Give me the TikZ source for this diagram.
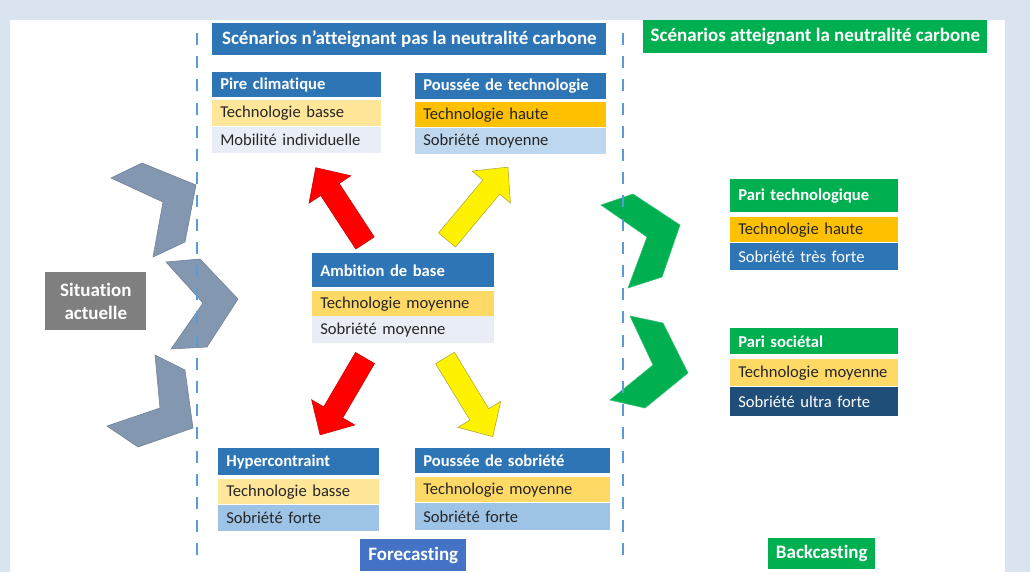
\documentclass[tikz,border=0pt]{standalone}
\usepackage{fontspec}
\setmainfont{Carlito}[Ligatures=NoCommon]

\definecolor{frameblue}{HTML}{DAE3F0}
\definecolor{hdrblue}{HTML}{2E75B6}
\definecolor{hdrgreen}{HTML}{00B050}
\definecolor{techlow}{HTML}{FFE699}
\definecolor{techmid}{HTML}{FFD966}
\definecolor{techhigh}{HTML}{FFC000}
\definecolor{sobpale}{HTML}{E9EEF6}
\definecolor{sobmid}{HTML}{BDD7EE}
\definecolor{sobfort}{HTML}{9DC3E6}
\definecolor{sobdark}{HTML}{1F4E79}
\definecolor{sitgray}{HTML}{7F7F7F}
\definecolor{chevgray}{HTML}{8497B0}
\definecolor{forecast}{HTML}{4472C4}
\definecolor{sepblue}{HTML}{5B9BD5}

% fat arrow: style, tail point, angle, length
\newcommand{\blockarrow}[4]{%
  \begin{scope}[shift={#2}, rotate=#3]
    \filldraw[#1] (0,-11) -- (#4-26,-11) -- (#4-26,-25) -- (#4,0)
      -- (#4-26,25) -- (#4-26,11) -- (0,11) -- cycle;
  \end{scope}}

\begin{document}
\begin{tikzpicture}[x=0.025cm,y=-0.025cm,
  every node/.style={anchor=north west,inner xsep=0.2cm,inner ysep=0pt,
    font=\fontsize{11.8}{13}\selectfont,text=black!85,align=left},
  hdr/.style={font=\fontsize{11.8}{13}\selectfont\bfseries,text=white},
  tag/.style={inner sep=0pt,align=center,text=white,
    font=\fontsize{13.5}{16}\selectfont\bfseries},
  chevron/.style={fill=chevgray,draw=chevgray!85!black,line width=0.4pt},
  greenchev/.style={fill=hdrgreen,draw=hdrgreen!80!white,line width=0.4pt},
  sep/.style={sepblue,line width=2pt,dash pattern=on 8.5pt off 8pt}]

% frame
\useasboundingbox (0,0) rectangle (1030,572);
\fill[frameblue] (0,0) rectangle (1030,572);
\fill[white] (10,20) rectangle (1005,572);

% titles
\node[tag,fill=hdrblue,minimum width=9.85cm,minimum height=0.8cm]
  (titlepas) at (212,23) {Scénarios n’atteignant pas la neutralité carbone};
\node[tag,fill=hdrgreen,minimum width=8.6cm,minimum height=0.825cm]
  (titleneutre) at (643,20) {Scénarios atteignant la neutralité carbone};

% forecasting scenarios
\node[hdr,fill=hdrblue,text width=3.825cm,minimum height=0.625cm] (pire)  at (212,72)  {Pire climatique};
\node[fill=techlow,text width=3.825cm,minimum height=0.65cm]      (pire1) at (212,100) {Technologie basse};
\node[fill=sobpale,text width=3.825cm,minimum height=0.65cm]      (pire2) at (212,127) {Mobilité individuelle};

\node[hdr,fill=hdrblue,text width=4.375cm,minimum height=0.65cm] (ptech)  at (415,73)  {Poussée de technologie};
\node[fill=techhigh,text width=4.375cm,minimum height=0.625cm]   (ptech1) at (415,102) {Technologie haute};
\node[fill=sobmid,text width=4.375cm,minimum height=0.65cm]      (ptech2) at (415,128) {Sobriété moyenne};

\node[hdr,fill=hdrblue,text width=4.15cm,minimum height=0.85cm]  (base)  at (312,253) {Ambition de base};
\node[fill=techmid,text width=4.15cm,minimum height=0.625cm]     (base1) at (312,291) {Technologie moyenne};
\node[fill=sobpale,text width=4.15cm,minimum height=0.675cm]     (base2) at (312,316) {Sobriété moyenne};

\node[hdr,fill=hdrblue,text width=3.625cm,minimum height=0.675cm] (hyper)  at (218,448) {Hypercontraint};
\node[fill=techlow,text width=3.625cm,minimum height=0.625cm]     (hyper1) at (218,479) {Technologie basse};
\node[fill=sobfort,text width=3.625cm,minimum height=0.65cm]      (hyper2) at (218,505) {Sobriété forte};

\node[hdr,fill=hdrblue,text width=4.475cm,minimum height=0.625cm] (psob)  at (415,448) {Poussée de sobriété};
\node[fill=techmid,text width=4.475cm,minimum height=0.625cm]     (psob1) at (415,477) {Technologie moyenne};
\node[fill=sobfort,text width=4.475cm,minimum height=0.675cm]     (psob2) at (415,503) {Sobriété forte};

% backcasting scenarios
\node[hdr,fill=hdrgreen,text width=3.8cm,minimum height=0.825cm] (ptechno)  at (730,179) {Pari technologique};
\node[fill=techhigh,text width=3.8cm,minimum height=0.625cm]     (ptechno1) at (730,217) {Technologie haute};
\node[hdr,fill=hdrblue,font=\fontsize{11.8}{13}\selectfont,text width=3.8cm,minimum height=0.675cm]
                                                                  (ptechno2) at (730,243) {Sobriété très forte};

\node[hdr,fill=hdrgreen,text width=3.8cm,minimum height=0.65cm]  (psoc)  at (730,328) {Pari sociétal};
\node[fill=techmid,text width=3.8cm,minimum height=0.675cm]      (psoc1) at (730,359) {Technologie moyenne};
\node[hdr,fill=sobdark,font=\fontsize{11.8}{13}\selectfont,text width=3.8cm,minimum height=0.725cm]
                                                                  (psoc2) at (730,387) {Sobriété ultra forte};

% starting point and methods
\node[tag,fill=sitgray,minimum width=2.525cm,minimum height=1.45cm] (situation) at (45,272) {Situation\\actuelle};
\node[tag,fill=forecast,minimum width=2.65cm,minimum height=0.8cm]  (forecasting) at (360,539) {Forecasting};
\node[tag,fill=hdrgreen,minimum width=2.675cm,minimum height=0.775cm] (backcasting) at (768,538) {Backcasting};

% chevrons
\filldraw[chevron] (111,178) -- (142,163) -- (196,185) -- (185,242) -- (153,257) -- (163,202) -- cycle;
\filldraw[chevron] (166,262) -- (200,259) -- (238,299) -- (207,347) -- (171,349) -- (203,303) -- cycle;
\filldraw[chevron] (155,355) -- (185,370) -- (193,428) -- (138,447) -- (107,426) -- (160,408) -- cycle;
\filldraw[greenchev] (601,205) -- (633,194) -- (680,225) -- (662,277) -- (628,288) -- (647,237) -- cycle;
\filldraw[greenchev] (630,316) -- (663,323) -- (688,373) -- (645,408) -- (610,400) -- (653,365) -- cycle;

% separators
\draw[sep] (197,33) -- (197,560);
\draw[sep] (623,33) -- (623,560);

% arrows out of the base scenario
\blockarrow{fill=red,draw=red!80!black}{(365,243)}{123.2}{90}
\blockarrow{fill=yellow,draw=olive!70}{(447,240)}{50.1}{95}
\blockarrow{fill=red,draw=red!80!black}{(365,358)}{239.7}{89}
\blockarrow{fill=yellow,draw=olive!70}{(445,358)}{301.3}{92}
\end{tikzpicture}
\end{document}
